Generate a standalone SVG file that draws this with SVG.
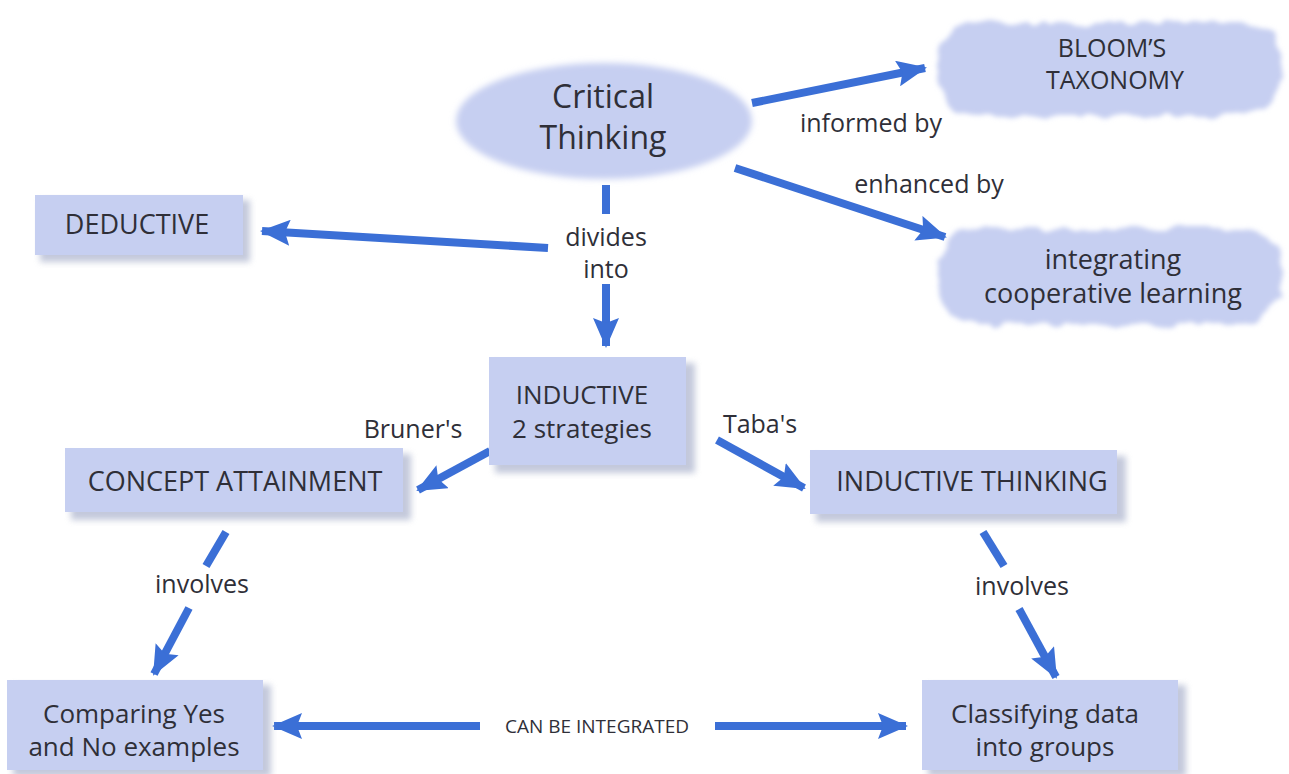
<svg xmlns="http://www.w3.org/2000/svg" width="1289" height="774" viewBox="0 0 1289 774">
<style>
.box{fill:#c6cff1;}
.shadow{fill:#aab2cc;opacity:0.7;}
.t{font-family:"Open Sans","Liberation Sans",sans-serif;fill:#2f2f38;text-anchor:middle;}
.lbl{font-family:"Open Sans","Liberation Sans",sans-serif;fill:#2f2f38;text-anchor:middle;font-size:25px;}
.c{stroke:#3b6fd6;stroke-width:8;fill:none;}
</style>
<defs>
<marker id="ah" markerUnits="userSpaceOnUse" markerWidth="30" markerHeight="26" refX="28" refY="13" orient="auto-start-reverse">
<path d="M0,0 L30,13 L0,26 L5,13 Z" fill="#3b6fd6"/>
</marker>
<filter id="cloud" x="-10%" y="-20%" width="120%" height="140%">
<feTurbulence type="fractalNoise" baseFrequency="0.05" numOctaves="2" seed="3" result="n"/>
<feDisplacementMap in="SourceGraphic" in2="n" scale="14" xChannelSelector="R" yChannelSelector="G" result="d"/>
<feGaussianBlur in="d" stdDeviation="2.5"/>
</filter>
<filter id="soft" x="-10%" y="-10%" width="120%" height="120%">
<feGaussianBlur stdDeviation="3"/>
</filter>
</defs>
<rect width="1289" height="774" fill="#ffffff"/>

<g id="connectors">
<line class="c" x1="752" y1="103" x2="925" y2="68" marker-end="url(#ah)"/>
<line class="c" x1="735" y1="168" x2="945" y2="237" marker-end="url(#ah)"/>
<line class="c" x1="606" y1="185" x2="606" y2="214"/>
<line class="c" x1="606" y1="284" x2="606" y2="346" marker-end="url(#ah)"/>
<line class="c" x1="548" y1="248" x2="262" y2="231" marker-end="url(#ah)"/>
<line class="c" x1="490" y1="451" x2="418" y2="490" marker-end="url(#ah)"/>
<line class="c" x1="717" y1="440" x2="804" y2="488" marker-end="url(#ah)"/>
<line class="c" x1="226" y1="532" x2="206" y2="566"/>
<line class="c" x1="189" y1="608" x2="154" y2="674" marker-end="url(#ah)"/>
<line class="c" x1="983" y1="532" x2="1004" y2="566"/>
<line class="c" x1="1019" y1="609" x2="1056" y2="677" marker-end="url(#ah)"/>
<line class="c" x1="480" y1="726" x2="274" y2="726" marker-end="url(#ah)"/>
<line class="c" x1="715" y1="726" x2="906" y2="726" marker-end="url(#ah)"/>
<text class="lbl" x="871" y="132">informed by</text>
<text class="lbl" x="929" y="193">enhanced by</text>
<text class="lbl" x="606" y="246">divides<tspan x="606" y="278">into</tspan></text>
<text class="lbl" x="413" y="438">Bruner's</text>
<text class="lbl" x="760" y="433">Taba's</text>
<text class="lbl" x="202" y="593">involves</text>
<text class="lbl" x="1022" y="595">involves</text>
<text class="lbl" x="597" y="733" style="font-size:19px">CAN BE INTEGRATED</text>
</g>

<g id="critical-thinking">
<ellipse cx="604" cy="121" rx="148" ry="58" class="box" filter="url(#soft)"/>
<text class="t" x="603" y="108" font-size="32">Critical<tspan x="603" y="149">Thinking</tspan></text>
</g>

<g id="blooms-taxonomy">
<rect x="938" y="22" width="344" height="94" rx="40" class="box" filter="url(#cloud)"/>
<text class="t" x="1112" y="57" font-size="25">BLOOM’S<tspan x="1115" y="89">TAXONOMY</tspan></text>
</g>

<g id="cooperative-learning">
<rect x="938" y="228" width="344" height="96" rx="40" class="box" filter="url(#cloud)"/>
<text class="t" x="1113" y="269" font-size="27">integrating<tspan x="1113" y="303">cooperative learning</tspan></text>
</g>

<g id="deductive">
<rect x="40" y="200" width="210" height="62" class="shadow" filter="url(#soft)"/>
<rect x="35" y="195" width="208" height="60" class="box"/>
<text class="t" x="137" y="234" font-size="27">DEDUCTIVE</text>
</g>

<g id="inductive">
<rect x="495" y="363" width="200" height="110" class="shadow" filter="url(#soft)"/>
<rect x="489" y="357" width="197" height="108" class="box"/>
<text class="t" x="582" y="404" font-size="26">INDUCTIVE<tspan x="582" y="438">2 strategies</tspan></text>
</g>

<g id="concept-attainment">
<rect x="71" y="454" width="340" height="66" class="shadow" filter="url(#soft)"/>
<rect x="65" y="448" width="338" height="64" class="box"/>
<text class="t" x="235" y="491" font-size="27">CONCEPT ATTAINMENT</text>
</g>

<g id="inductive-thinking">
<rect x="816" y="456" width="310" height="66" class="shadow" filter="url(#soft)"/>
<rect x="810" y="450" width="307" height="64" class="box"/>
<text class="t" x="972" y="491" font-size="27">INDUCTIVE THINKING</text>
</g>

<g id="comparing">
<rect x="13" y="685" width="258" height="92" class="shadow" filter="url(#soft)"/>
<rect x="7" y="680" width="256" height="90" class="box"/>
<text class="t" x="134" y="723" font-size="26">Comparing Yes<tspan x="134" y="756">and No examples</tspan></text>
</g>

<g id="classifying">
<rect x="928" y="685" width="258" height="92" class="shadow" filter="url(#soft)"/>
<rect x="922" y="680" width="256" height="90" class="box"/>
<text class="t" x="1045" y="723" font-size="26">Classifying data<tspan x="1045" y="756">into groups</tspan></text>
</g>
</svg>
